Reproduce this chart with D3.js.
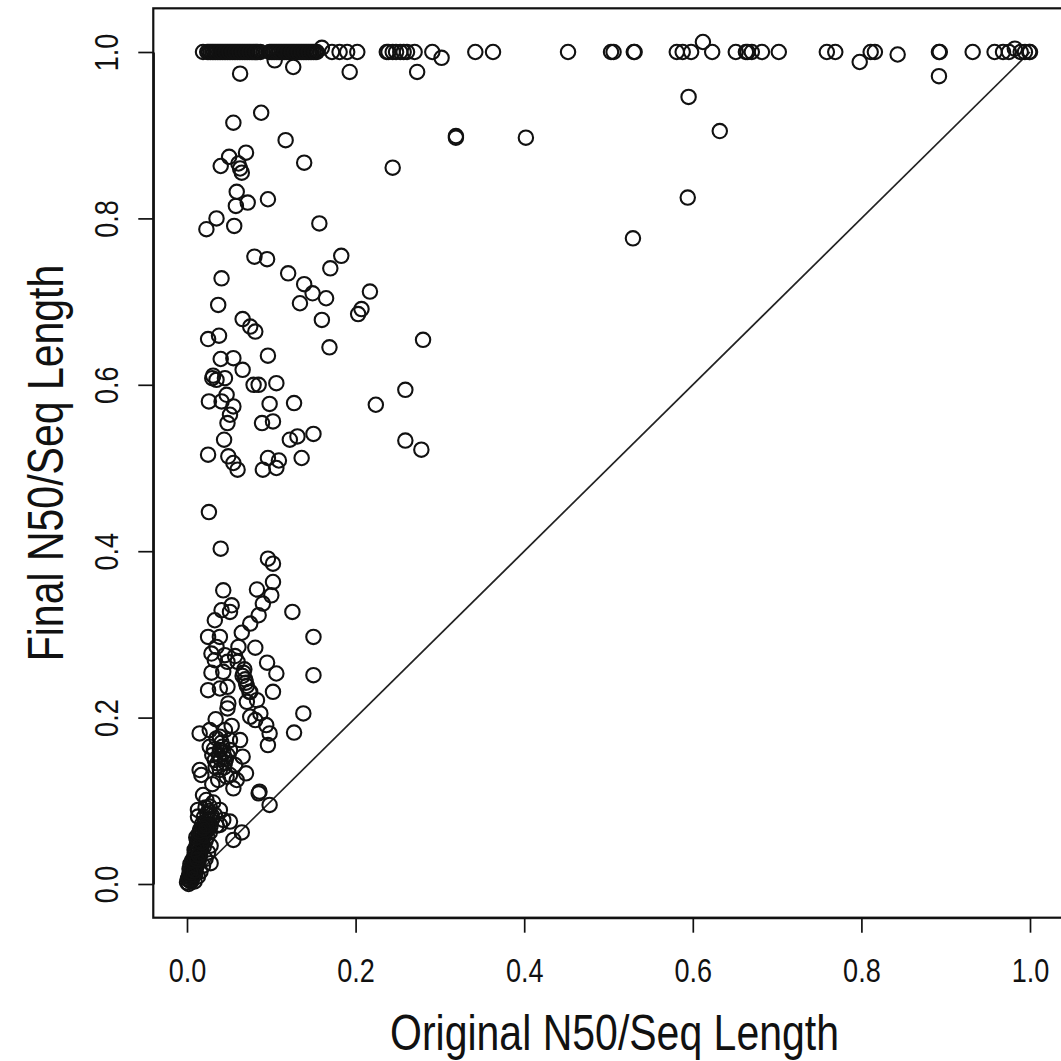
<!DOCTYPE html>
<html>
<head>
<meta charset="utf-8">
<script src="https://cdn.jsdelivr.net/npm/d3@7"></script>
<style>
  body { margin: 0; background: #fff; }
  svg { display: block; }
</style>
</head>
<body>
<div class="chart"></div>
<script>
// points, [original, final]
var topRow = [
  [0.019,1],[0.024,1],[0.028,1],[0.032,1],[0.036,1],[0.040,1],[0.044,1],[0.048,1],[0.052,1],[0.056,1],
  [0.060,1],[0.064,1],[0.068,1],[0.072,1],[0.076,1],[0.080,1],[0.084,1],[0.087,1],
  [0.098,1],[0.102,1],[0.106,1],[0.110,1],[0.114,1],[0.118,1],[0.122,1],[0.126,1],[0.130,1],
  [0.134,1],[0.138,1],[0.142,1],[0.146,1],[0.150,1],[0.154,1],
  [0.172,1],[0.181,1],[0.190,1],[0.202,1],
  [0.237,1],[0.244,1],[0.253,1],[0.261,1],[0.270,1],[0.291,1],[0.342,1],[0.363,1],[0.452,1],
  [0.503,1],[0.506,1],[0.530,1],[0.531,1],
  [0.581,1],[0.588,1],[0.598,1],[0.623,1],[0.651,1],[0.663,1],[0.665,1],[0.670,1],[0.682,1],[0.702,1],
  [0.759,1],[0.769,1],[0.811,1],[0.816,1],[0.892,1],[0.893,1],[0.932,1],
  [0.958,1],[0.968,1],[0.975,1],[0.989,1],[0.994,1],[0.999,1],[1,1]
];
// extra overlaps that make the left part of the top row look solid
var topRowDense = [
  [0.026,1],[0.030,1],[0.034,1],[0.038,1],[0.042,1],[0.046,1],[0.050,1],[0.054,1],[0.058,1],
  [0.062,1],[0.066,1],[0.070,1],[0.074,1],[0.078,1],[0.082,1],
  [0.100,1],[0.104,1],[0.108,1],[0.112,1],[0.116,1],[0.120,1],[0.124,1],[0.128,1],[0.132,1],
  [0.136,1],[0.140,1],[0.144,1],[0.148,1],[0.152,1],[0.239,1],[0.248,1],[0.257,1]
];
var nearTop = [
  [0.063,0.974],[0.126,0.982],[0.193,0.976],[0.273,0.976],[0.104,0.990],[0.302,0.993],
  [0.160,1.005],[0.612,1.012],[0.798,0.988],[0.843,0.997],[0.892,0.971],[0.982,1.004]
];
var upperCloud = [
  [0.055,0.915],[0.088,0.927],[0.117,0.894],[0.070,0.879],[0.050,0.874],[0.040,0.863],[0.061,0.866],
  [0.063,0.860],[0.065,0.855],[0.139,0.867],[0.244,0.861],[0.059,0.832],[0.058,0.815],[0.072,0.819],
  [0.096,0.823],[0.035,0.800],[0.023,0.787],[0.056,0.791],[0.157,0.794],[0.080,0.754],[0.095,0.751],
  [0.183,0.755],[0.170,0.740],[0.041,0.728],[0.120,0.734],[0.139,0.721],[0.149,0.710],[0.134,0.698],
  [0.165,0.704],[0.217,0.712],[0.207,0.691],[0.203,0.685],[0.037,0.696],[0.160,0.678],[0.066,0.679],
  [0.075,0.670],[0.081,0.664],[0.025,0.655],[0.038,0.659],[0.169,0.645],[0.280,0.654],[0.040,0.631],
  [0.055,0.632],[0.096,0.635],[0.066,0.618],[0.030,0.608],[0.035,0.606],[0.031,0.611],[0.045,0.608],
  [0.079,0.600],[0.085,0.600],[0.106,0.602],[0.259,0.594],[0.026,0.580],[0.041,0.580],[0.047,0.588],
  [0.055,0.574],[0.051,0.564],[0.048,0.554],[0.098,0.577],[0.127,0.578],[0.224,0.576],[0.089,0.554],
  [0.102,0.556],[0.044,0.534],[0.131,0.538],[0.122,0.534],[0.150,0.541],[0.259,0.533],[0.025,0.516],
  [0.049,0.514],[0.055,0.506],[0.060,0.498],[0.096,0.512],[0.109,0.509],[0.090,0.498],[0.106,0.500],
  [0.136,0.512],[0.278,0.522],
  [0.319,0.897],[0.319,0.899],[0.402,0.897],[0.595,0.946],[0.632,0.905],[0.594,0.825],[0.529,0.776]
];
var lowerCloud = [
  [0.026,0.447],[0.040,0.403],[0.096,0.391],[0.102,0.385],[0.043,0.353],[0.083,0.354],[0.102,0.363],
  [0.100,0.347],[0.053,0.335],[0.041,0.329],[0.051,0.327],[0.090,0.337],[0.085,0.323],[0.075,0.313],
  [0.125,0.327],[0.033,0.317],[0.065,0.302],[0.025,0.297],[0.039,0.297],[0.150,0.297],[0.061,0.285],
  [0.035,0.285],[0.081,0.284],[0.057,0.274],[0.045,0.275],[0.029,0.277],[0.033,0.269],[0.095,0.266],
  [0.106,0.253],[0.150,0.251],[0.029,0.254],[0.043,0.255],[0.048,0.267],[0.060,0.267],
  [0.067,0.254],[0.069,0.246],[0.071,0.238],[0.074,0.231],[0.066,0.250],[0.068,0.258],[0.070,0.242],
  [0.025,0.233],[0.039,0.235],[0.048,0.237],[0.075,0.231],[0.083,0.221],[0.102,0.231],
  [0.049,0.217],[0.048,0.211],[0.071,0.219],[0.138,0.205],[0.127,0.182],
  [0.075,0.201],[0.081,0.197],[0.087,0.205],[0.094,0.191],[0.098,0.181],[0.096,0.167],[0.034,0.198],
  [0.015,0.181],[0.027,0.185],[0.039,0.177],[0.051,0.173],[0.063,0.173],[0.027,0.165],[0.039,0.161],
  [0.051,0.161],[0.066,0.153],[0.070,0.133],[0.059,0.125],[0.033,0.149],[0.045,0.146],[0.057,0.143],
  [0.039,0.137],[0.051,0.131],[0.015,0.137],[0.017,0.131],[0.047,0.129],[0.055,0.115],
  [0.036,0.145],[0.040,0.150],[0.044,0.140],[0.030,0.155],[0.042,0.165],[0.048,0.155],[0.035,0.175],
  [0.045,0.185],[0.053,0.190],[0.037,0.125],[0.030,0.120],[0.038,0.155],[0.046,0.150],[0.034,0.140],
  [0.041,0.170],[0.043,0.158],[0.032,0.162],
  [0.085,0.109],[0.086,0.111],[0.098,0.095],[0.019,0.107],[0.023,0.101],[0.013,0.089],[0.013,0.081],
  [0.027,0.093],[0.039,0.089],[0.043,0.077],[0.051,0.075],[0.035,0.070],[0.039,0.071],
  [0.020,0.080],[0.024,0.085],[0.030,0.078],[0.028,0.070],[0.033,0.083],[0.022,0.092],[0.031,0.098],
  [0.026,0.088],[0.029,0.083],[0.025,0.076],
  [0.065,0.062],[0.055,0.053],[0.028,0.025]
];
var bottomCluster = [
  [0.000,0.002],[0.002,0.000],[0.003,0.004],[0.001,0.006],[0.004,0.008],[0.005,0.003],[0.006,0.010],
  [0.003,0.012],[0.007,0.014],[0.005,0.016],[0.008,0.018],[0.010,0.012],[0.006,0.020],[0.009,0.022],
  [0.011,0.020],[0.007,0.025],[0.010,0.027],[0.012,0.024],[0.008,0.030],[0.011,0.032],[0.014,0.028],
  [0.009,0.035],[0.012,0.037],[0.015,0.033],[0.010,0.040],[0.013,0.042],[0.016,0.038],[0.011,0.045],
  [0.014,0.047],[0.017,0.043],[0.012,0.050],[0.015,0.052],[0.018,0.048],[0.020,0.045],[0.013,0.055],
  [0.016,0.058],[0.019,0.055],[0.022,0.052],[0.014,0.060],[0.018,0.062],[0.021,0.060],[0.024,0.057],
  [0.016,0.066],[0.020,0.068],[0.024,0.065],[0.027,0.062],[0.018,0.072],[0.022,0.074],[0.026,0.070],
  [0.009,0.003],[0.013,0.009],[0.016,0.015],[0.019,0.022],[0.022,0.030],[0.025,0.038],[0.028,0.046],
  [0.004,0.024],[0.003,0.018],[0.002,0.009],[0.006,0.006],[0.008,0.011],[0.004,0.014],[0.009,0.016],
  [0.006,0.028],[0.012,0.029],[0.009,0.041],[0.014,0.035],[0.017,0.050],[0.011,0.056],[0.020,0.058],
  [0.015,0.063],[0.022,0.064],[0.019,0.067],[0.023,0.070]
];
var diagonal = [[0, 0], [1, 1]];
var ticks = [0, 0.2, 0.4, 0.6, 0.8, 1.0];
var xTitle = "Original N50/Seq Length",
  yTitle = "Final N50/Seq Length";

var width = 1061,
  height = 1061,
  squeeze = 0.82; // the picture's lettering is narrow

var svg = d3.select(".chart").append("svg")
  .attr("width", width)
  .attr("height", height)

var x = d3.scaleLinear().domain([0, 1]).range([187, 1030]),
  y = d3.scaleLinear().domain([0, 1]).range([884, 52]);

var boxLeft = x(-0.04), boxRight = x(1.04),
  boxTop = y(1.0525), boxBottom = y(-0.0405);

svg.append("rect")
  .attr("width", width).attr("height", height).attr("fill", "#fff")

svg.append("path")
  .datum(diagonal)
  .attr("d", d3.line().x(d => x(d[0])).y(d => y(d[1])))
  .attr("fill", "none")
  .attr("stroke", "#222")
  .attr("stroke-width", 1.7)

var points = topRow.concat(topRowDense, nearTop, upperCloud, lowerCloud, bottomCluster);

svg.append("g")
  .selectAll("circle")
  .data(points)
  .enter().append("circle")
  .attr("cx", d => x(d[0]))
  .attr("cy", d => y(d[1]))
  .attr("r", 7.2)
  .attr("fill", "none")
  .attr("stroke", "#111")
  .attr("stroke-width", 2.1)

svg.append("rect")
  .attr("x", boxLeft).attr("y", boxTop)
  .attr("width", boxRight - boxLeft).attr("height", boxBottom - boxTop)
  .attr("fill", "none")
  .attr("stroke", "#111")
  .attr("stroke-width", 2.2)

var fmt = d3.format(".1f");

var xAxis = svg.append("g")
  .attr("transform", `translate(0,${boxBottom})`)
  .call(d3.axisBottom(x).tickValues(ticks).tickSize(15).tickSizeOuter(0).tickFormat(fmt))
xAxis.select(".domain").attr("stroke", "#111").attr("stroke-width", 2.2)
xAxis.selectAll(".tick line").attr("stroke", "#111").attr("stroke-width", 1.7)
xAxis.selectAll(".tick text")
  .attr("y", 64).attr("dy", null)
  .attr("transform", `scale(${squeeze},1)`)
  .attr("font-family", "Liberation Sans, Arial, sans-serif")
  .attr("font-size", 33)
  .attr("fill", "#111")

var yAxis = svg.append("g")
  .attr("transform", `translate(${boxLeft},0)`)
  .call(d3.axisLeft(y).tickValues(ticks).tickSize(15).tickSizeOuter(0).tickFormat(fmt))
yAxis.select(".domain").attr("stroke", "#111").attr("stroke-width", 2.2)
yAxis.selectAll(".tick line").attr("stroke", "#111").attr("stroke-width", 1.7)
yAxis.selectAll(".tick text")
  .attr("x", 0).attr("dy", null)
  .attr("text-anchor", "middle")
  .attr("transform", `translate(-35,0) rotate(-90) scale(${squeeze},1)`)
  .attr("font-family", "Liberation Sans, Arial, sans-serif")
  .attr("font-size", 33)
  .attr("fill", "#111")

svg.append("text")
  .attr("transform", `translate(${(boxLeft + boxRight) / 2 + 6},1050) scale(${squeeze},1)`)
  .attr("text-anchor", "middle")
  .attr("font-family", "Liberation Sans, Arial, sans-serif")
  .attr("font-size", 50)
  .attr("fill", "#111")
  .text(xTitle)

svg.append("text")
  .attr("transform", `translate(63,${(boxTop + boxBottom) / 2}) rotate(-90) scale(${squeeze},1)`)
  .attr("text-anchor", "middle")
  .attr("font-family", "Liberation Sans, Arial, sans-serif")
  .attr("font-size", 50)
  .attr("fill", "#111")
  .text(yTitle)
</script>
</body>
</html>
